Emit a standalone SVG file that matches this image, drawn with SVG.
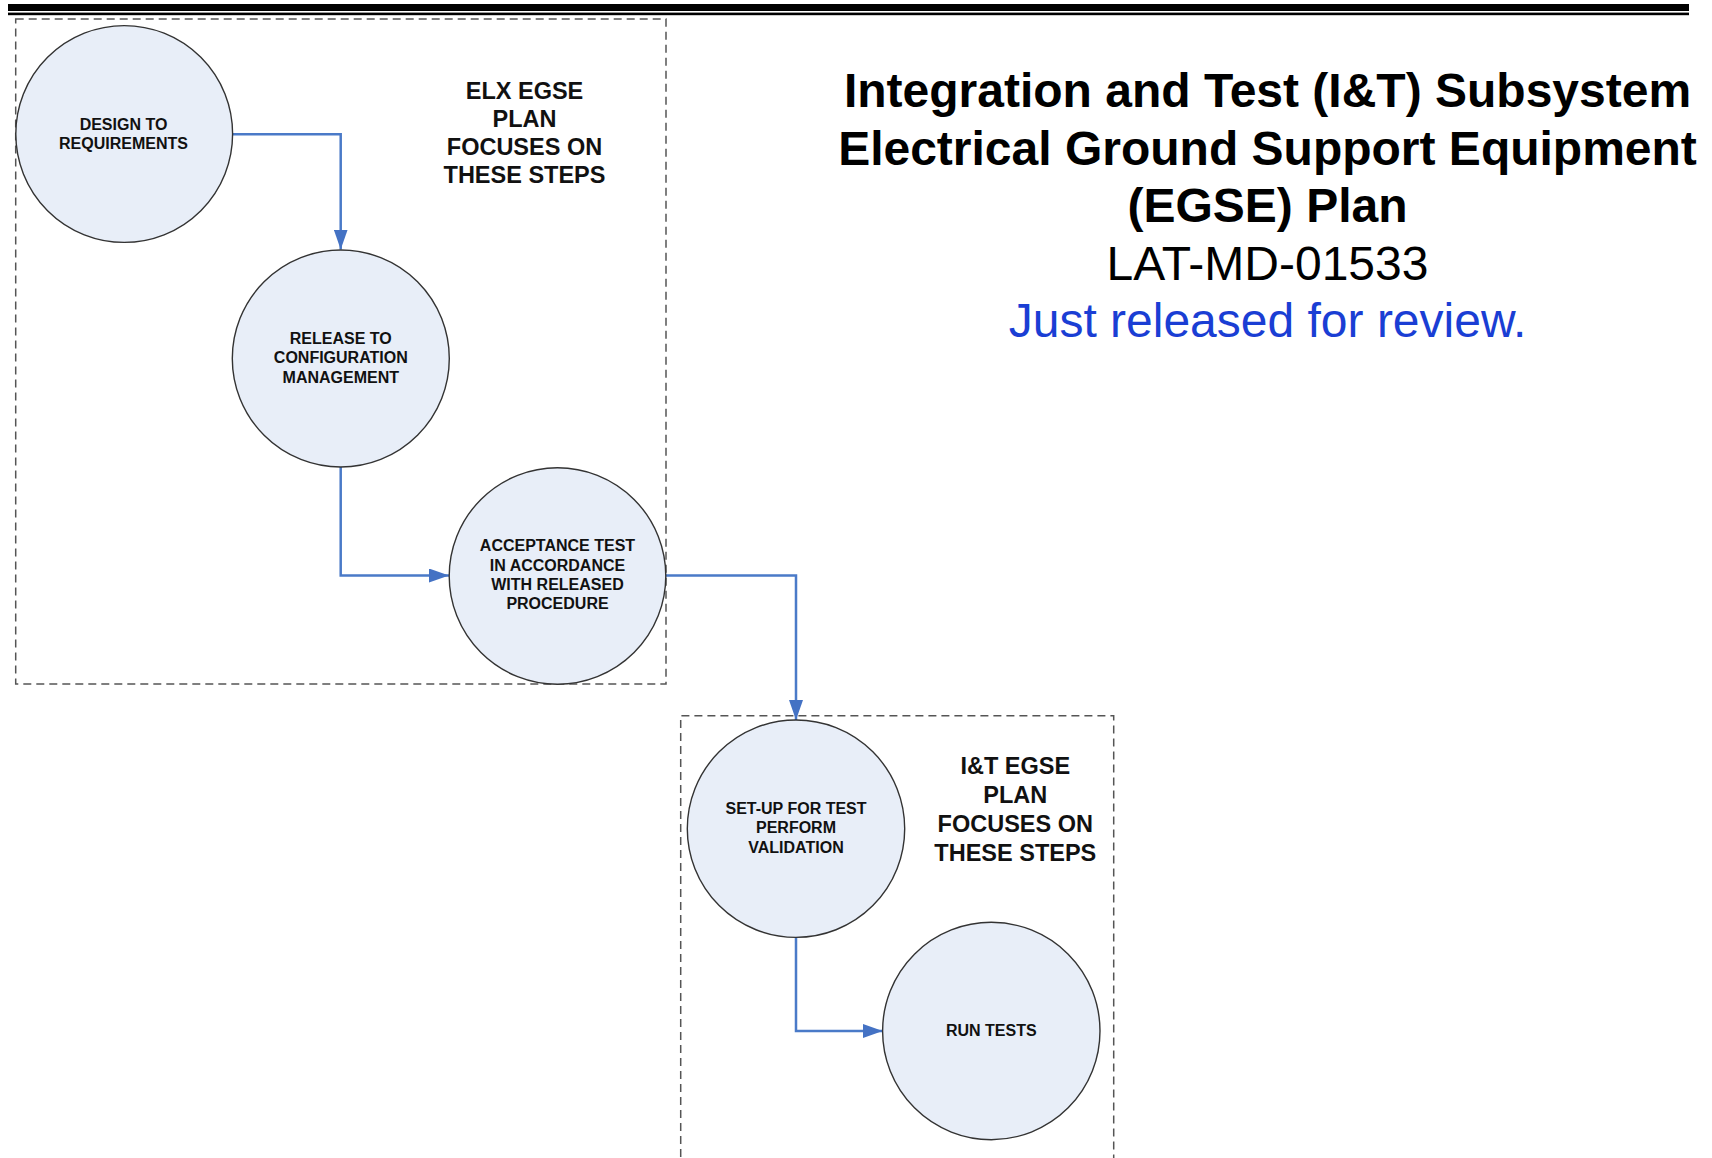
<svg xmlns="http://www.w3.org/2000/svg" width="1712" height="1158" viewBox="0 0 1712 1158">
<style>
  text { font-family: "Liberation Sans", Arial, sans-serif; }
  .node circle { fill: #E8EEF8; stroke: #333333; stroke-width: 1.4; }
  .node text { font-size: 16px; font-weight: bold; fill: #111111; text-anchor: middle; }
  .box { fill: none; stroke: #555555; stroke-width: 1.5; stroke-dasharray: 8 5; }
  .lbl { font-size: 23.5px; font-weight: bold; fill: #111111; text-anchor: middle; }
  .conn path { fill: none; stroke: #4A7AC8; stroke-width: 2.5; marker-end: url(#arr); }
  .title { font-size: 48px; font-weight: bold; fill: #000000; text-anchor: middle; }
</style>
<defs>
  <marker id="arr" viewBox="0 0 20 14" refX="20" refY="7" markerWidth="20" markerHeight="14" markerUnits="userSpaceOnUse" orient="auto">
    <path d="M0,0 L20,7 L0,14 Z" fill="#4472C4"/>
  </marker>
</defs>
<rect width="1712" height="1158" fill="#FFFFFF"/>
<g id="header-bars">
  <rect x="8" y="4" width="1681" height="7" fill="#000000"/>
  <rect x="8" y="12.6" width="1681" height="2.6" fill="#000000"/>
</g>
<g id="elx-group">
  <rect class="box" x="15.7" y="19" width="650.3" height="665"/>
  <text class="lbl" x="524.5" y="98.7">ELX EGSE</text>
  <text class="lbl" x="524.5" y="126.9">PLAN</text>
  <text class="lbl" x="524.5" y="155.1">FOCUSES ON</text>
  <text class="lbl" x="524.5" y="183.3">THESE STEPS</text>
</g>
<g id="it-group">
  <path class="box" d="M680.7,1170 V715.7 H1113.7 V1170"/>
  <text class="lbl" x="1015.3" y="774.3">I&amp;T EGSE</text>
  <text class="lbl" x="1015.3" y="803.2">PLAN</text>
  <text class="lbl" x="1015.3" y="832.1">FOCUSES ON</text>
  <text class="lbl" x="1015.3" y="861">THESE STEPS</text>
</g>
<g id="connectors" class="conn">
  <path d="M232.7,134.3 H340.7 V249.5"/>
  <path d="M340.7,467 V575.5 H449"/>
  <path d="M666,575.5 H796 V720"/>
  <path d="M796,937.5 V1031 H882.7"/>
</g>
<g id="node-design" class="node">
  <circle cx="124.2" cy="134" r="108.4"/>
  <text x="123.5" y="130">DESIGN TO</text>
  <text x="123.5" y="149.2">REQUIREMENTS</text>
</g>
<g id="node-release" class="node">
  <circle cx="340.8" cy="358.5" r="108.5"/>
  <text x="340.8" y="344">RELEASE TO</text>
  <text x="340.8" y="363.2">CONFIGURATION</text>
  <text x="340.8" y="382.5">MANAGEMENT</text>
</g>
<g id="node-acceptance" class="node">
  <circle cx="557.5" cy="576" r="108.3"/>
  <text x="557.5" y="551.4">ACCEPTANCE TEST</text>
  <text x="557.5" y="570.6">IN ACCORDANCE</text>
  <text x="557.5" y="589.8">WITH RELEASED</text>
  <text x="557.5" y="609">PROCEDURE</text>
</g>
<g id="node-setup" class="node">
  <circle cx="796" cy="828.7" r="108.7"/>
  <text x="796" y="814">SET-UP FOR TEST</text>
  <text x="796" y="833.4">PERFORM</text>
  <text x="796" y="852.7">VALIDATION</text>
</g>
<g id="node-run" class="node">
  <circle cx="991.3" cy="1031" r="108.7"/>
  <text x="991.3" y="1035.7">RUN TESTS</text>
</g>
<g id="title">
  <text class="title" x="1267.5" y="107">Integration and Test (I&amp;T) Subsystem</text>
  <text class="title" x="1267.5" y="164.5">Electrical Ground Support Equipment</text>
  <text class="title" x="1267.5" y="222">(EGSE) Plan</text>
  <text x="1267.5" y="279.5" font-size="48" fill="#000000" text-anchor="middle">LAT-MD-01533</text>
  <text x="1267.5" y="337" font-size="48" fill="#1A3ED4" text-anchor="middle">Just released for review.</text>
</g>
</svg>
